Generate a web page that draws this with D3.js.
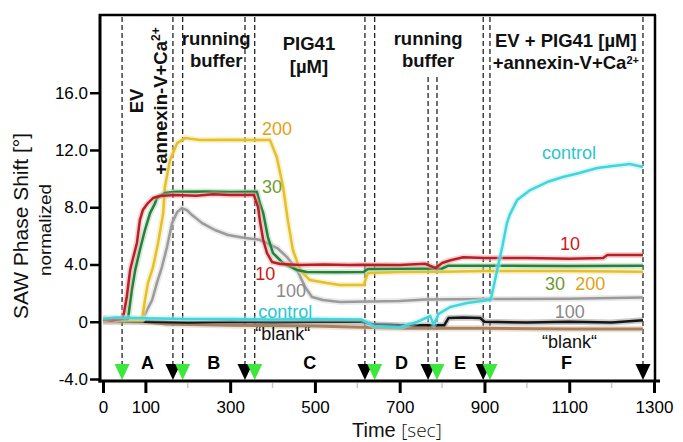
<!DOCTYPE html>
<html>
<head>
<meta charset="utf-8">
<script src="https://cdn.jsdelivr.net/npm/d3@7"></script>
<style>
  body { margin: 0; background: #fff; }
  svg { display: block; }
  text { font-family: "Liberation Sans", Arial, Helvetica, sans-serif; }
</style>
</head>
<body>
<svg id="chart" width="683" height="442"></svg>
<script>
// ---- SAW phase shift traces: [time (s), normalized phase shift (°)] ----
const trace10 = [
  [0,0.15],[20,0.1],[47,0.2],[56,1.73],[64,3.61],[71,4.45],[80,5.5],[87,7.1],[94,7.8],[106,8.29],
  [118,8.64],[134,8.78],[170,8.85],[220,8.8],[260,8.9],[300,8.85],[340,8.85],[356,8.85],[366,8.0],
  [370,7.1],[378,5.71],[387,4.8],[399,4.17],[418,4.03],[465,3.96],[520,4.0],[580,3.96],[613,3.98],
  [700,3.96],[760,4.05],[785,3.75],[800,4.1],[820,4.3],[850,4.5],[900,4.45],[1000,4.45],[1100,4.4],
  [1180,4.45],[1190,4.66],[1274,4.66]
];
const trace30 = [
  [0,0.1],[59,0.2],[68,2.21],[76,3.61],[87,5.01],[99,6.41],[111,7.59],[123,8.29],[127,8.64],[146,8.99],
  [170,9.08],[250,9.1],[300,9.06],[363,9.08],[370,8.29],[378,7.59],[389,5.92],[401,4.8],[425,4.1],
  [458,3.61],[481,3.47],[550,3.45],[615,3.47],[625,3.68],[700,3.7],[800,3.72],[815,3.92],[950,3.92],
  [1100,3.9],[1274,3.92]
];
const trace200 = [
  [0,0.1],[92,0.12],[99,1.52],[106,2.7],[118,3.82],[130,5.5],[142,7.59],[146,9.41],[158,11.29],
  [175,12.48],[193,12.83],[229,12.69],[300,12.72],[360,12.69],[394,12.69],[410,11.5],[425,9.41],
  [436,7.1],[448,5.01],[465,3.61],[488,2.91],[528,2.7],[559,2.56],[615,2.56],[625,3.4],[700,3.47],
  [800,3.5],[900,3.55],[1100,3.55],[1274,3.5]
];
const trace100 = [
  [0,0.1],[94,0.2],[104,0.82],[116,1.52],[127,2.7],[139,3.82],[151,5.22],[163,6.89],[175,7.66],
  [186,7.94],[198,7.8],[210,7.45],[234,6.89],[264,6.41],[295,6.06],[335,5.85],[366,5.75],[387,5.5],
  [411,5.15],[434,4.52],[458,3.61],[477,2.42],[493,1.73],[519,1.52],[559,1.38],[700,1.45],[760,1.55],
  [900,1.59],[1100,1.6],[1200,1.66],[1274,1.7]
];
const traceControl = [
  [0,0.2],[30,0.3],[100,0.25],[200,0.2],[300,0.2],[400,0.15],[500,0.2],[610,0.15],[640,-0.3],
  [700,-0.38],[740,-0.02],[772,0.4],[780,-0.2],[792,0.55],[819,1.03],[859,1.31],[894,1.45],[915,1.55],
  [930,3.61],[942,5.22],[953,6.9],[960,7.5],[977,8.5],[1008,9.2],[1048,9.76],[1085,10.11],
  [1124,10.39],[1166,10.74],[1203,10.88],[1243,11.02],[1274,10.81]
];
const traceBlank = [
  [0,0.0],[100,0.0],[200,-0.05],[300,0.0],[400,-0.03],[500,0.0],[610,0.0],[640,-0.2],[700,-0.25],
  [805,-0.25],[815,0.26],[850,0.3],[890,0.26],[900,0.0],[1000,-0.05],[1100,0.0],[1200,-0.05],[1274,0.1]
];
const traceBlankRef = [
  [0,0.25],[50,0.15],[150,-0.15],[300,-0.25],[500,-0.3],[700,-0.45],[900,-0.45],[1100,-0.5],[1274,-0.5]
];

// ---- injection / stop events and phases ----
const injectTimes = [45, 188, 358, 641, 788, 913];
const stopTimes   = [165, 335, 618, 767, 897, 1274];
const phaseNames  = ["A", "B", "C", "D", "E", "F"];

// ---- axis ticks ----
const xTicks = [0, 100, 300, 500, 700, 900, 1100, 1300];
const xMinorTicks = [200, 400, 600, 800, 1000, 1200];
const yTicks = [-4, 0, 4, 8, 12, 16];

(function draw() {
  const svg = d3.select("#chart");
  const padL = 100, padR = 655, padT = 15, padB = 381;

  const x = d3.scaleLinear().domain([0, 1300]).range([103, 654]);
  const y = d3.scaleLinear().domain([-4.14, 21.43]).range([padB, padT]);

  // event marker dashed lines
  const lateStart = new Set([767, 788]);
  const allEvents = injectTimes.concat(stopTimes);
  svg.append("g").selectAll("line").data(allEvents).join("line")
    .attr("x1", d => x(d)).attr("x2", d => x(d))
    .attr("y1", d => lateStart.has(d) ? 77 : padT + 2)
    .attr("y2", 366)
    .attr("stroke", "#111").attr("stroke-width", 1.2).attr("stroke-dasharray", "5,3");

  // traces
  const line = d3.line().x(d => x(d[0])).y(d => y(d[1]));
  const series = [
    { data: traceBlankRef, color: "#a8825f", halo: "#d9c0a5", w: 3 },
    { data: traceBlank,    color: "#151515", halo: "#888",    w: 2.5 },
    { data: trace100,      color: "#9b9b9b", halo: "#d0d0d0", w: 2.5 },
    { data: trace200,      color: "#e3c02c", halo: "#f6df8a", w: 2.5 },
    { data: trace30,       color: "#23813b", halo: "#9fcfa5", w: 2.5 },
    { data: trace10,       color: "#b81f26", halo: "#e7a0a0", w: 2.5 },
    { data: traceControl,  color: "#40d6dc", halo: "#b4eef0", w: 2.5 }
  ];
  const traces = svg.append("g").attr("fill", "none").attr("stroke-linejoin", "round");
  series.forEach(s => {
    traces.append("path").attr("d", line(s.data))
      .attr("stroke", s.halo).attr("stroke-width", s.w + 3.5).attr("stroke-opacity", 0.45);
    traces.append("path").attr("d", line(s.data))
      .attr("stroke", s.color).attr("stroke-width", s.w);
  });

  // triangles: stop (black) under injection (green)
  const tri = t => `M${x(t) - 7.5},364 L${x(t) + 7.5},364 L${x(t)},380 Z`;
  svg.append("g").selectAll("path").data(stopTimes).join("path")
    .attr("d", tri).attr("fill", "#000");
  svg.append("g").selectAll("path").data(injectTimes).join("path")
    .attr("d", tri).attr("fill", "#3be83b");

  // phase letters
  svg.append("g").selectAll("text").data(phaseNames).join("text")
    .attr("x", (d, i) => x((injectTimes[i] + stopTimes[i]) / 2))
    .attr("y", 369)
    .attr("text-anchor", "middle").attr("font-size", 18).attr("font-weight", "bold")
    .text(d => d);

  // frame and axes
  svg.append("line").attr("x1", padL - 1).attr("x2", padR + 1).attr("y1", padT).attr("y2", padT)
    .attr("stroke", "#000").attr("stroke-width", 2.5);
  svg.append("line").attr("x1", padR).attr("x2", padR).attr("y1", padT).attr("y2", padB)
    .attr("stroke", "#000").attr("stroke-width", 2.5);

  const xAxis = svg.append("g").attr("transform", `translate(0,${padB})`)
    .call(d3.axisBottom(x).tickValues(xTicks).tickSize(12).tickPadding(8).tickFormat(d3.format("d")));
  xAxis.select(".domain").remove();
  xAxis.selectAll(".tick line").attr("stroke", "#000").attr("stroke-width", 3);
  xAxis.selectAll(".tick text").attr("font-size", 17).attr("fill", "#000")
    .style("font-family", '"Liberation Sans", Arial, sans-serif');
  svg.append("g").selectAll("line").data(xMinorTicks).join("line")
    .attr("x1", d => x(d)).attr("x2", d => x(d)).attr("y1", padB + 2).attr("y2", padB + 7)
    .attr("stroke", "#c8c8c8").attr("stroke-width", 1.5);

  const yAxis = svg.append("g").attr("transform", `translate(${padL},0)`)
    .call(d3.axisLeft(y).tickValues(yTicks).tickSize(10).tickPadding(2)
      .tickFormat(d => d === 0 ? "0" : d.toFixed(1)));
  yAxis.select(".domain").remove();
  yAxis.selectAll(".tick line").attr("stroke", "#000").attr("stroke-width", 2.5);
  yAxis.selectAll(".tick text").attr("font-size", 17).attr("fill", "#000")
    .style("font-family", '"Liberation Sans", Arial, sans-serif');

  svg.append("line").attr("x1", padL).attr("x2", padL).attr("y1", padT - 1).attr("y2", padB + 1.5)
    .attr("stroke", "#000").attr("stroke-width", 3);
  svg.append("line").attr("x1", padL - 1.5).attr("x2", 660).attr("y1", padB).attr("y2", padB)
    .attr("stroke", "#000").attr("stroke-width", 3);

  // axis titles
  const xTitle = svg.append("text").attr("x", 352).attr("y", 437).attr("font-size", 20).attr("fill", "#111");
  xTitle.append("tspan").text("Time ");
  xTitle.append("tspan").style("font-family", '"Open Sans", "DejaVu Sans", sans-serif')
    .attr("font-size", 19).attr("font-weight", 300).text("[sec]");

  svg.append("text").attr("transform", "translate(28,226) rotate(-90)")
    .attr("text-anchor", "middle").attr("font-size", 21).attr("fill", "#111")
    .text("SAW Phase Shift [°]");
  svg.append("text").attr("transform", "translate(51,230) rotate(-90)")
    .attr("text-anchor", "middle").attr("font-size", 16).attr("fill", "#111")
    .attr("textLength", 92).attr("lengthAdjust", "spacingAndGlyphs")
    .text("normalized");

  // phase headers
  const header = (t, yy, str) => svg.append("text")
    .attr("x", x(t)).attr("y", yy).attr("text-anchor", "middle")
    .attr("font-size", 18.5).attr("font-weight", "bold").attr("fill", "#111").text(str);
  header(267, 45, "running");
  header(267, 67, "buffer");
  header(486, 50, "PIG41");
  header(486, 73, "[µM]");
  header(767, 45, "running");
  header(767, 67, "buffer");
  header(1092, 47, "EV + PIG41 [µM]");
  const ann2 = svg.append("text").attr("x", x(1092)).attr("y", 69).attr("text-anchor", "middle")
    .attr("font-size", 18.5).attr("font-weight", "bold").attr("fill", "#111");
  ann2.append("tspan").text("+annexin-V+Ca");
  ann2.append("tspan").attr("font-size", 11).attr("dy", -5).text("2+");

  svg.append("text").attr("transform", "translate(143,101) rotate(-90)")
    .attr("text-anchor", "middle").attr("font-size", 18.5).attr("font-weight", "bold").attr("fill", "#111")
    .text("EV");
  const ann1 = svg.append("text").attr("transform", "translate(167,101) rotate(-90)")
    .attr("text-anchor", "middle").attr("font-size", 18.5).attr("font-weight", "bold").attr("fill", "#111");
  ann1.append("tspan").text("+annexin-V+Ca");
  ann1.append("tspan").attr("font-size", 12).attr("dy", -7).text("2+");

  // trace labels
  const labels = [
    { t: 375, yy: 135, s: "200", c: "#e0a215" },
    { t: 375, yy: 193, s: "30", c: "#6e9b2f" },
    { t: 359, yy: 280, s: "10", c: "#d0161a" },
    { t: 408, yy: 297, s: "100", c: "#8a8a8a" },
    { t: 366, yy: 318, s: "control", c: "#2ac6cf" },
    { t: 359, yy: 340, s: "\u201Cblank\u201C", c: "#111" },
    { t: 1036, yy: 159, s: "control", c: "#2ac6cf" },
    { t: 1078, yy: 250, s: "10", c: "#d0161a" },
    { t: 1043, yy: 290, s: "30", c: "#6e9b2f" },
    { t: 1114, yy: 290, s: "200", c: "#e0a215" },
    { t: 1066, yy: 318, s: "100", c: "#8a8a8a" },
    { t: 1036, yy: 348, s: "\u201Cblank\u201C", c: "#111" }
  ];
  svg.append("g").selectAll("text").data(labels).join("text")
    .attr("x", d => x(d.t)).attr("y", d => d.yy)
    .attr("font-size", 18).attr("fill", d => d.c).text(d => d.s);
})();
</script>
</body>
</html>
